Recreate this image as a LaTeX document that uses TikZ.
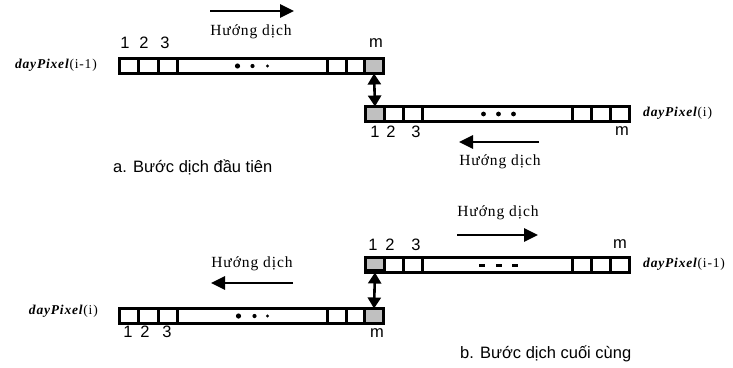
\documentclass[tikz,border=0pt]{standalone}
\usepackage{fontspec}
\setmainfont{Liberation Serif}
\setsansfont{Liberation Sans}
\usetikzlibrary{arrows.meta}
\definecolor{cellgray}{RGB}{192,192,192}
\begin{document}
\begin{tikzpicture}[x=1pt,y=-1pt,
  rowbox/.style={draw=black, line width=2.8pt, fill=white, minimum width=264pt, minimum height=15pt, inner sep=0pt, outer sep=0pt, anchor=north west},
  graycell/.style={draw=black, line width=2.8pt, fill=cellgray, minimum width=19pt, minimum height=15pt, inner sep=0pt, outer sep=0pt, anchor=north west},
  sepline/.style={line width=2.4pt},
  num/.style={font=\sffamily\fontsize{16.5}{16.5}\selectfont, inner sep=0pt},
  dirlbl/.style={font=\fontsize{15.5}{15.5}\selectfont\addfontfeature{LetterSpace=6}, inner sep=0pt},
  dirarrow/.style={line width=2.6pt, -{Triangle[length=14pt,width=13pt]}},
  swaparrow/.style={line width=2.6pt, {Triangle[length=11pt,width=13pt]}-{Triangle[length=11pt,width=13pt]}},
  rowname/.style={font=\fontsize{13.5}{13.5}\selectfont\addfontfeature{LetterSpace=6}, inner sep=0pt},
  capt/.style={font=\sffamily\fontsize{16.5}{16.5}\selectfont, inner sep=0pt},
]
\useasboundingbox (0,0) rectangle (733,367);

% ---------- part a, row (i-1) ----------
\begin{scope}[shift={(119.5,58.5)}]
  \node[rowbox] (rowAprev) at (0,0) {};
  \node[graycell] (cellAm) at (245,0) {};
  \foreach \x in {19,39,58,208,227} \draw[sepline] (\x,0) -- (\x,15);
  \fill (118,7.5) circle (2.6pt) (133,7.5) circle (2.1pt) (148,7.5) circle (1.6pt);
\end{scope}
\node[num] (aP1) at (125,43) {1};
\node[num] (aP2) at (144,43) {2};
\node[num] (aP3) at (165,43) {3};
\node[num] (aPm) at (376,43) {m};
\node[rowname, anchor=east] (aPname) at (97,65) {\textbf{\textit{dayPixel}}(i-1)};
\node[dirlbl] (aPdir) at (251,32) {Hướng dịch};
\coordinate (aPa1) at (210,11);
\coordinate (aPa2) at (294,11);
\draw[dirarrow] (aPa1) -- (aPa2);

% ---------- part a, row (i) ----------
\begin{scope}[shift={(365.5,106.5)}]
  \node[rowbox] (rowAcur) at (0,0) {};
  \node[graycell] (cellA1) at (0,0) {};
  \foreach \x in {38,57,207,226,245} \draw[sepline] (\x,0) -- (\x,15);
  \fill (118,7.5) circle (2.4pt) (133,7.5) circle (2.4pt) (148,7.5) circle (2.4pt);
\end{scope}
\draw[swaparrow] (cellAm.south) -- (cellA1.north);
\node[num] (aC1) at (375,132) {1};
\node[num] (aC2) at (391,132) {2};
\node[num] (aC3) at (416,132) {3};
\node[num] (aCm) at (622,131) {m};
\node[rowname, anchor=west] (aCname) at (643,113) {\textbf{\textit{dayPixel}}(i)};
\coordinate (aCa1) at (539,142);
\coordinate (aCa2) at (459,142);
\draw[dirarrow] (aCa1) -- (aCa2);
\node[dirlbl] (aCdir) at (500,162) {Hướng dịch};
\node[capt, anchor=west] (capA) at (113,167) {a. Bước dịch đầu tiên};

% ---------- part b, row (i-1) ----------
\begin{scope}[shift={(365.5,257.5)}]
  \node[rowbox] (rowBprev) at (0,0) {};
  \node[graycell] (cellB1) at (0,0) {};
  \draw[line width=2pt] (0,12) -- (19,12);
  \foreach \x in {38,57,207,226,245} \draw[sepline] (\x,0) -- (\x,15);
  \foreach \x in {116,133,149} \fill (\x-3,6.3) rectangle (\x+3,9);
\end{scope}
\node[num] (bP1) at (373,245) {1};
\node[num] (bP2) at (390,245) {2};
\node[num] (bP3) at (416,245) {3};
\node[num] (bPm) at (620,244) {m};
\node[rowname, anchor=west] (bPname) at (643,264) {\textbf{\textit{dayPixel}}(i-1)};
\node[dirlbl] (bPdir) at (498,213) {Hướng dịch};
\coordinate (bPa1) at (457,235);
\coordinate (bPa2) at (538,235);
\draw[dirarrow] (bPa1) -- (bPa2);

% ---------- part b, row (i) ----------
\begin{scope}[shift={(119.5,308.5)}]
  \node[rowbox] (rowBcur) at (0,0) {};
  \node[graycell] (cellBm) at (245,0) {};
  \foreach \x in {19,39,58,208,227} \draw[sepline] (\x,0) -- (\x,15);
  \fill (119,7.5) circle (2.6pt) (135,7.5) circle (2.1pt) (148,7.5) circle (1.6pt);
\end{scope}
\draw[swaparrow] (cellB1.south) -- (cellBm.north);
\node[num] (bC1) at (128,332) {1};
\node[num] (bC2) at (145,332) {2};
\node[num] (bC3) at (167,332) {3};
\node[num] (bCm) at (377,333) {m};
\node[rowname, anchor=east] (bCname) at (98,311) {\textbf{\textit{dayPixel}}(i)};
\node[dirlbl] (bCdir) at (252,264) {Hướng dịch};
\coordinate (bCa1) at (293,283);
\coordinate (bCa2) at (211,283);
\draw[dirarrow] (bCa1) -- (bCa2);
\node[capt, anchor=west] (capB) at (460,354) {b. Bước dịch cuối cùng};
\end{tikzpicture}
\end{document}
